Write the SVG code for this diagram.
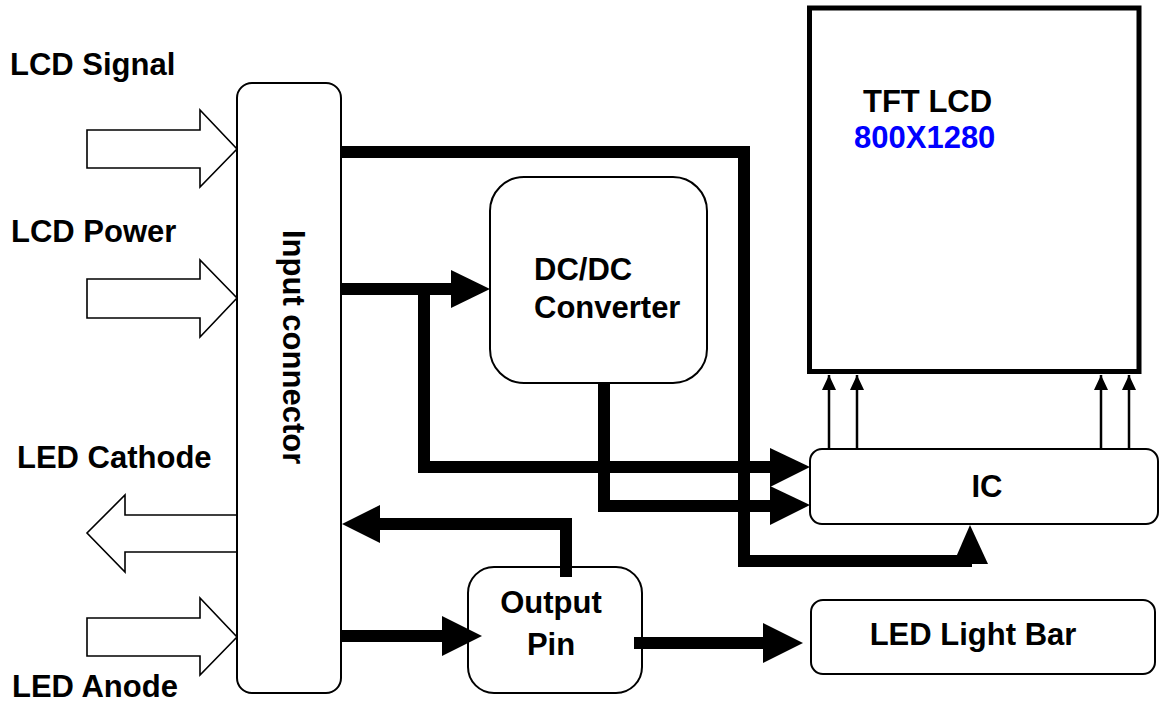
<svg xmlns="http://www.w3.org/2000/svg" width="1162" height="703" viewBox="0 0 1162 703">
<style>
.t{font-family:"Liberation Sans",Arial,sans-serif;font-weight:bold;font-size:31px;fill:#000}
.box{fill:#fff;stroke:#000;stroke-width:2}
.hollow{fill:#fff;stroke:#000;stroke-width:1.6;stroke-linejoin:miter}
.thick{fill:none;stroke:#000;stroke-width:12;stroke-linejoin:miter;stroke-linecap:butt}
.head{fill:#000;stroke:none}
.thin{fill:none;stroke:#000;stroke-width:2.5}
</style>
<defs>
<marker id="ah" markerUnits="userSpaceOnUse" markerWidth="16" markerHeight="16" viewBox="0 0 16 16" refX="15" refY="8" orient="auto">
<path d="M0,1 L15,8 L0,15 Z" fill="#000"/>
</marker>
</defs>
<rect width="1162" height="703" fill="#fff"/>

<g id="labels">
<text class="t" x="10" y="75">LCD Signal</text>
<text class="t" x="11" y="242">LCD Power</text>
<text class="t" x="17" y="468">LED Cathode</text>
<text class="t" x="12" y="697">LED Anode</text>
</g>

<g id="io-arrows">
<polygon class="hollow" points="87,130 200,130 200,110 237,149 200,187 200,168 87,168"/>
<polygon class="hollow" points="87,279 200,279 200,260 237,298 200,337 200,318 87,318"/>
<polygon class="hollow" points="237,515 125,515 125,495 87,533 125,572 125,552 237,552"/>
<polygon class="hollow" points="87,618 200,618 200,598 237,637 200,675 200,656 87,656"/>
</g>

<g id="input-connector">
<rect class="box" x="237" y="83" width="104" height="610" rx="15"/>
<text class="t" x="283" y="230" transform="rotate(90 283 230)" font-size="29">Input connector</text>
</g>

<g id="dcdc">
<rect class="box" x="490" y="177" width="217" height="206" rx="34"/>
<text class="t" x="534" y="280">DC/DC</text>
<text class="t" x="534" y="318">Converter</text>
</g>

<g id="tft-lcd">
<rect x="809.5" y="8" width="329.5" height="363.5" fill="#fff" stroke="#000" stroke-width="5"/>
<text class="t" x="863" y="112">TFT LCD</text>
<text class="t" x="854" y="148" fill="#0000ff" style="fill:#0000ff">800X1280</text>
</g>

<g id="ic">
<rect class="box" x="810" y="449" width="348" height="75" rx="12"/>
<text class="t" x="987" y="497" text-anchor="middle">IC</text>
</g>

<g id="output-pin">
<rect class="box" x="468" y="567" width="174" height="126" rx="26"/>
<text class="t" x="551" y="613" text-anchor="middle">Output</text>
<text class="t" x="551" y="655" text-anchor="middle">Pin</text>
</g>

<g id="led-light-bar">
<rect class="box" x="811" y="600" width="344" height="74" rx="12"/>
<text class="t" x="973" y="645" text-anchor="middle">LED Light Bar</text>
</g>

<g id="connectors">
<polyline class="thick" points="341,152 744,152 744,561 972,561"/>
<polygon class="head" points="953,564 970,525 988,564"/>

<polyline class="thick" points="341,289 452,289"/>
<polygon class="head" points="451,270 490,289 451,308"/>

<polyline class="thick" points="424,289 424,467 772,467"/>
<polygon class="head" points="770,448 810,467 770,487"/>

<polyline class="thick" points="604,383 604,506 772,506"/>
<polygon class="head" points="770,486 810,505 770,525"/>

<polyline class="thick" points="566,577 566,524 378,524"/>
<polygon class="head" points="380,505 342,524 380,543"/>

<polyline class="thick" points="341,636 444,636"/>
<polygon class="head" points="442,616 482,636 442,656"/>

<polyline class="thick" points="634,643 765,643"/>
<polygon class="head" points="763,623 803,643 763,663"/>

<line class="thin" x1="829" y1="449" x2="829" y2="375" marker-end="url(#ah)"/>
<line class="thin" x1="857" y1="449" x2="857" y2="375" marker-end="url(#ah)"/>
<line class="thin" x1="1101" y1="449" x2="1101" y2="375" marker-end="url(#ah)"/>
<line class="thin" x1="1129" y1="449" x2="1129" y2="375" marker-end="url(#ah)"/>
</g>
</svg>
